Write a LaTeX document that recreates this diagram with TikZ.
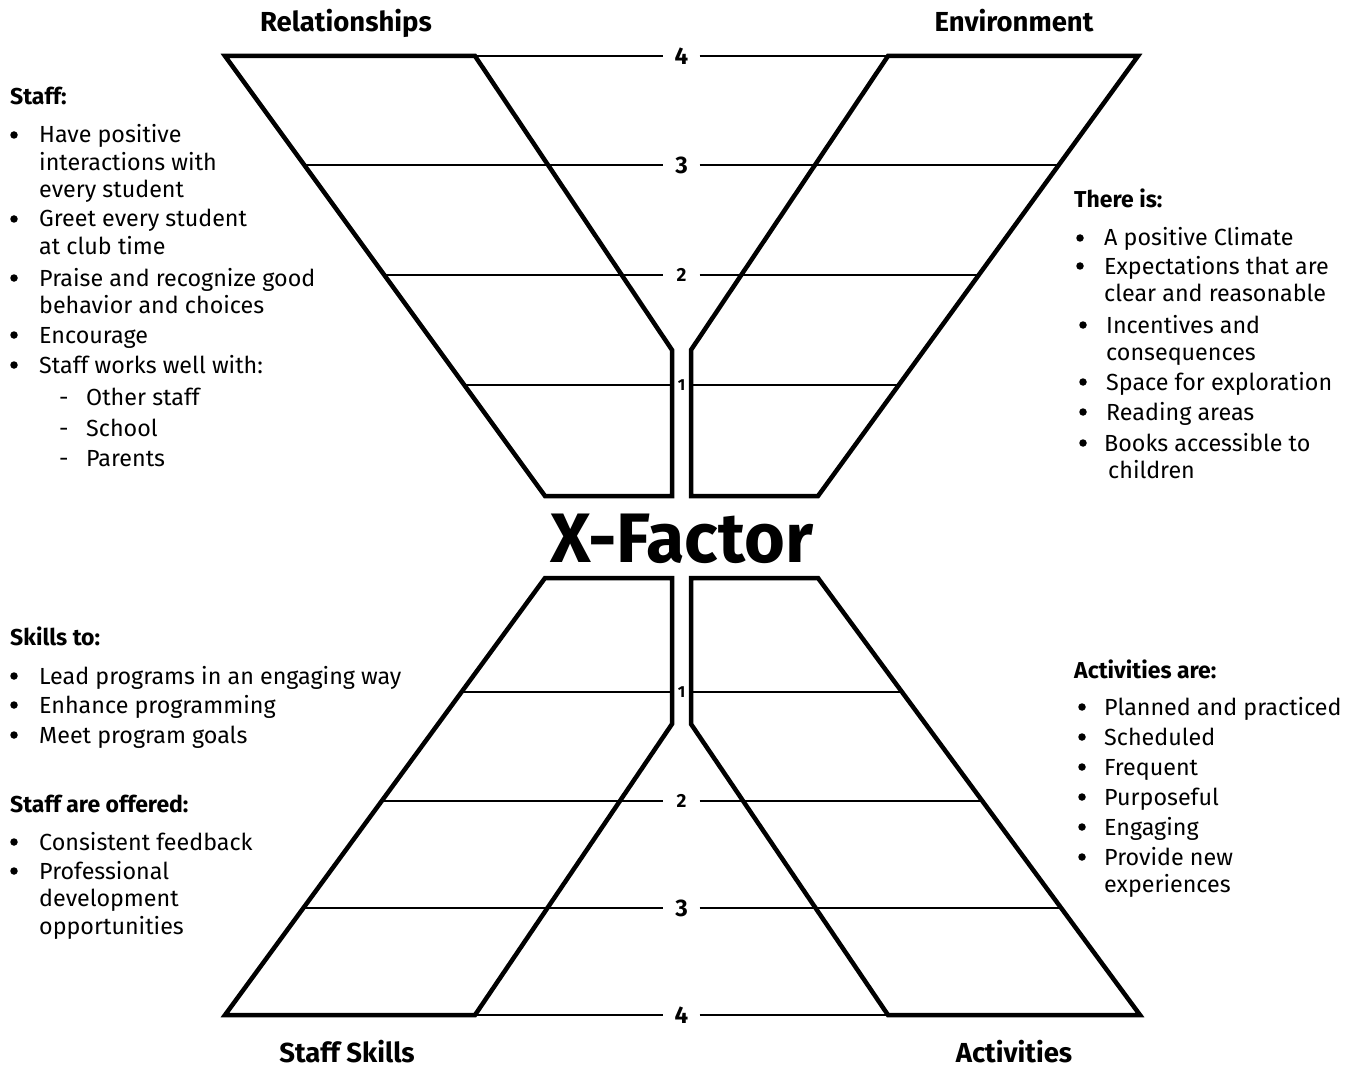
\documentclass[tikz,border=0pt]{standalone}
\usepackage{fontspec}
\setmainfont{Fira Sans}
\usetikzlibrary{positioning}
\newcommand{\itemlines}[1]{\begin{tabular}[t]{@{}l@{}}#1\end{tabular}}
\tikzstyle{frame} = [line width=4.5pt, line join=miter]
\tikzstyle{level} = [line width=1.3pt]
\tikzstyle{num} = [font=\bfseries\fontsize{24}{24}\selectfont, inner sep=0pt, minimum width=36pt]
\tikzstyle{smallnum} = [num, font=\bfseries\fontsize{19}{19}\selectfont]
\tikzstyle{title} = [font=\bfseries\fontsize{27.5}{30}\selectfont, anchor=base, inner sep=0pt]
\tikzstyle{head} = [font=\bfseries\fontsize{23}{27}\selectfont, anchor=base west, inner sep=0pt]
\tikzstyle{item} = [font=\fontsize{23.3}{27.5}\selectfont, anchor=base west, inner sep=0pt]
\tikzstyle{bul} = [circle, fill, inner sep=0pt, minimum size=7.5pt]

\begin{document}
\begin{tikzpicture}[x=1pt, y=-1pt]
\useasboundingbox (0,0) rectangle (1351,1067);

% the four funnels
\draw[frame] (225,56) -- (475,56) -- (672,350) -- (672,496) -- (545,496) -- cycle;
\draw[frame] (1138,56) -- (888,56) -- (691,350) -- (691,496) -- (818,496) -- cycle;
\draw[frame] (545,578) -- (672,578) -- (672,724) -- (475,1015) -- (225,1015) -- cycle;
\draw[frame] (818,578) -- (691,578) -- (691,724) -- (888,1015) -- (1140,1015) -- cycle;

% scale, top half
\node[num] (t4) at (681.5,56) {4};
\node[num] (t3) at (681.5,165) {3};
\node[smallnum] (t2) at (681.5,275) {2};
\node[smallnum, font=\bfseries\fontsize{16}{16}\selectfont, minimum width=19pt] (t1) at (681.5,385) {1};
\draw[level] (225,56) -- (t4.west);
\draw[level] (t4.east) -- (1138,56);
\draw[level] (304.3,165) -- (t3.west);
\draw[level] (t3.east) -- (1058.7,165);
\draw[level] (384.3,275) -- (t2.west);
\draw[level] (t2.east) -- (978.7,275);
\draw[level] (464.2,385) -- (t1.west);
\draw[level] (t1.east) -- (898.8,385);

% scale, bottom half
\node[smallnum, font=\bfseries\fontsize{16}{16}\selectfont, minimum width=19pt] (b1) at (681.5,692) {1};
\node[smallnum] (b2) at (681.5,801) {2};
\node[num] (b3) at (681.5,908) {3};
\node[num] (b4) at (681.5,1015) {4};
\draw[level] (461.5,692) -- (b1.west);
\draw[level] (b1.east) -- (901.5,692);
\draw[level] (381.7,801) -- (b2.west);
\draw[level] (b2.east) -- (981.3,801);
\draw[level] (303.4,908) -- (b3.west);
\draw[level] (b3.east) -- (1059.6,908);
\draw[level] (225,1015) -- (b4.west);
\draw[level] (b4.east) -- (1140,1015);

\node[font=\bfseries\fontsize{70}{70}\selectfont, anchor=base, inner sep=0pt] (xfactor) at (681.5,562) {X-Factor};

% titles
\node[title] (rel) at (346,32) {Relationships};
\node[title] (env) at (1014,32) {Environment};
\node[title] (skills) at (347,1062) {Staff Skills};
\node[title] (act) at (1014,1062) {Activities};

% relationships
\node[head] (staff) at (10,105) {Staff:};
\foreach \yy/\txt [count=\i] in {143/{Have positive\\interactions with\\every student},
    227/{Greet every student\\at club time}, 286/{Praise and recognize good\\behavior and choices},
    343/Encourage, 373/{Staff works well with:}} {
  \node[bul] (rb\i) at (14,\yy-8) {};
  \node[item] (rt\i) at (39,\yy) {\itemlines{\txt}};
}
\foreach \yy/\txt [count=\i] in {405/Other staff, 436/School, 466/Parents} {
  \node[item] (rd\i) at (59,\yy) {-};
  \node[item] (rs\i) at (86,\yy) {\txt};
}

% environment
\node[head] (thereis) at (1074,208) {There is:};
\foreach \bx/\tx/\yy/\txt [count=\i] in {1080/1104/246/A positive Climate,
    1080/1104/274/{Expectations that are\\clear and reasonable},
    1083/1106/333/{Incentives and\\consequences}, 1083/1106/390/Space for exploration,
    1083/1106/420/Reading areas, 1083/1104/451/{Books accessible to\\\hspace*{4pt}children}} {
  \node[bul] (eb\i) at (\bx,\yy-8) {};
  \node[item] (et\i) at (\tx,\yy) {\itemlines{\txt}};
}

% staff skills
\node[head] (skillsto) at (10,645) {Skills to:};
\foreach \yy/\txt [count=\i] in {684/Lead programs in an engaging way,
    713/Enhance programming, 743/Meet program goals} {
  \node[bul] (sb\i) at (14,\yy-8) {};
  \node[item] (st\i) at (39,\yy) {\txt};
}
\node[head] (offered) at (10,812) {Staff are offered:};
\foreach \yy/\txt [count=\i] in {850/Consistent feedback,
    879/{Professional\\development\\opportunities}} {
  \node[bul] (ob\i) at (14,\yy-8) {};
  \node[item] (ot\i) at (39,\yy) {\itemlines{\txt}};
}

% activities
\node[head] (actare) at (1074,678) {Activities are:};
\foreach \yy/\txt [count=\i] in {715/Planned and practiced, 745/Scheduled,
    775/Frequent, 805/Purposeful, 835/Engaging, 865/{Provide new\\experiences}} {
  \node[bul] (ab\i) at (1082,\yy-8) {};
  \node[item] (at\i) at (1104,\yy) {\itemlines{\txt}};
}
\end{tikzpicture}
\end{document}
